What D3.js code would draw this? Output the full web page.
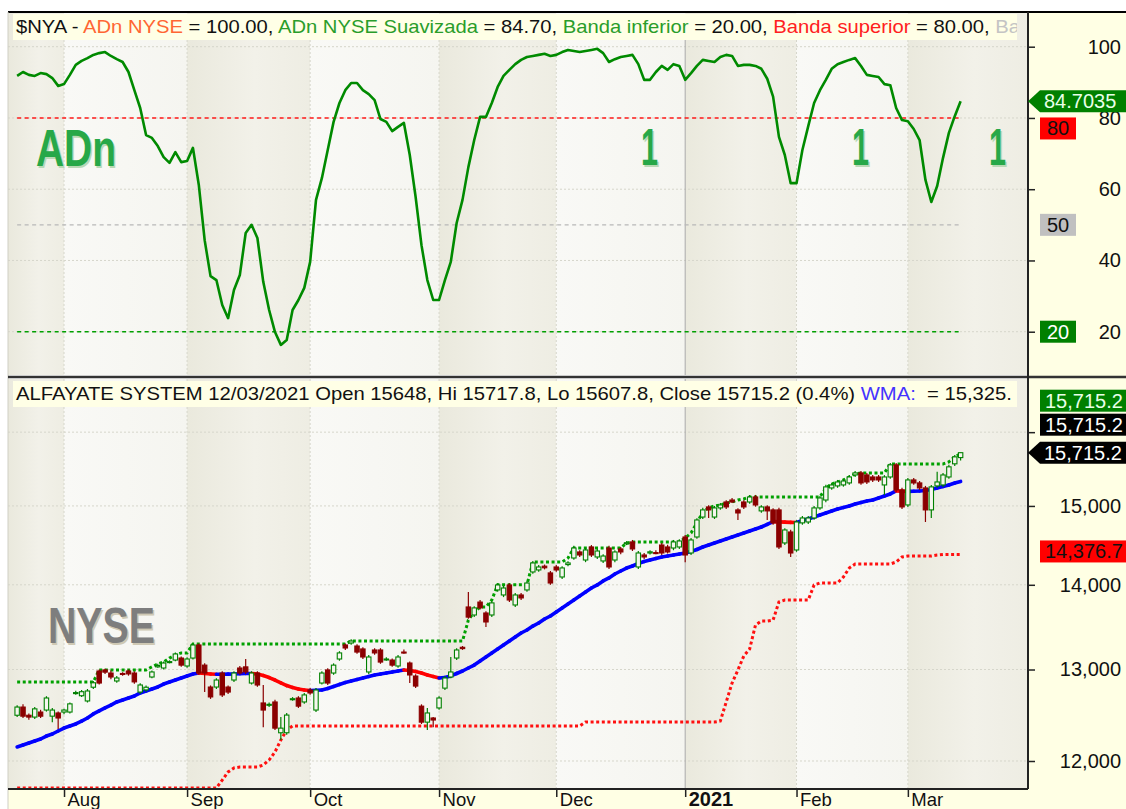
<!DOCTYPE html>
<html>
<head>
<meta charset="utf-8">
<script src="https://cdn.jsdelivr.net/npm/d3@7"></script>
<style>
  body { margin: 0; background: #fff; }
  text { font-family: "Liberation Sans", Arial, sans-serif; }
</style>
</head>
<body>
<script>
// trading days 22 Jul 2020 .. 12 Mar 2021 (index 0..161)
var monthIdx = [8, 29, 50, 72, 92, 114, 133, 152];
var monthLabels = ["Aug", "Sep", "Oct", "Nov", "Dec", "2021", "Feb", "Mar"];

var adnTicks = [20, 40, 60, 80, 100];
var priceTicks = [12000, 13000, 14000, 15000, 16000];
var bandLevels = [80, 50, 20];

var opens = [
  12490,12580,12490,12470,12525,12547,12480,12515,12525,12525,
  12730,12705,12647,12800,12983,12995,12960,12870,12955,12983,
  12960,12746,12770,12915,13030,13017,13080,13108,13131,13040,
  13131,13282,13050,12802,12802,12960,12802,12881,13017,13030,
  12847,12960,12625,12600,12636,12300,12300,12662,12680,12636,
  12769,12547,12847,12995,12960,13120,13282,13305,13270,13236,
  12972,13224,13224,13115,13108,13040,13200,13074,12926,12590,
  12415,12460,12570,12790,12915,13131,13255,13731,13635,13790,
  13659,13635,13937,13876,13998,13755,13876,13937,14158,14183,
  14230,14146,14220,14096,14250,14332,14408,14307,14471,14345,
  14295,14458,14307,14446,14510,14535,14220,14370,14395,14400,
  14496,14471,14458,14471,14598,14395,14598,14855,14987,14855,
  14974,15052,15078,14948,15052,15052,15118,14935,14987,14948,
  14948,14522,14662,14433,14779,14791,14843,14974,15078,15238,
  15265,15278,15305,15412,15440,15412,15385,15385,15278,15385,
  15549,15212,15013,15345,15305,15238,14948,15265,15278,15385,
  15563,15648];
var highs = [
  12600,12610,12510,12580,12550,12700,12570,12530,12560,12630,
  12760,12770,12780,12870,13000,13010,12990,12925,12970,13000,
  12980,12845,12820,12990,13065,13090,13105,13195,13150,13140,
  13300,13300,13070,12820,12900,12980,12820,12980,13040,13120,
  12980,12980,12825,12630,12660,12470,12515,12690,12700,12735,
  12790,12790,12980,13015,13070,13210,13300,13350,13290,13255,
  13165,13245,13245,13140,13125,13165,13230,13090,12945,12610,
  12570,12470,12700,12925,13143,13245,13270,13912,13740,13815,
  13680,13800,14020,13985,14020,13900,13900,14045,14295,14245,
  14250,14170,14245,14230,14290,14485,14430,14458,14495,14445,
  14380,14485,14430,14470,14545,14560,14420,14395,14430,14430,
  14520,14500,14560,14570,14625,14585,14840,14975,15010,15000,
  15040,15075,15105,14970,15075,15145,15145,15010,15010,14970,
  14975,14710,14690,14815,14870,14870,15000,15130,15280,15305,
  15345,15355,15410,15465,15465,15440,15412,15412,15410,15575,
  15575,15240,15370,15370,15331,15265,15278,15455,15440,15549,
  15685,15717.8];
var lows = [
  12470,12460,12440,12450,12460,12530,12415,12340,12500,12510,
  12715,12690,12630,12780,12830,12950,12890,12850,12930,12930,
  12840,12725,12750,12900,13020,13000,13070,13095,13030,13020,
  13115,12940,12746,12670,12780,12690,12725,12860,12940,12950,
  12830,12805,12360,12580,12330,12222,12280,12650,12570,12615,
  12715,12525,12830,12825,12940,13100,13225,13285,13180,13120,
  12950,13170,13065,13100,13030,13020,13180,12847,12790,12395,
  12330,12360,12550,12770,12900,13110,13225,13590,13610,13700,
  13492,13610,13915,13850,13790,13730,13815,13915,14135,14160,
  14190,14000,14160,14070,14230,14310,14345,14280,14345,14320,
  14270,14195,14280,14380,14495,14420,14195,14320,14375,14380,
  14370,14390,14430,14445,14280,14370,14575,14830,14843,14830,
  14950,14960,15040,14817,14960,15030,14990,14910,14817,14755,
  14445,14495,14345,14410,14755,14765,14820,14950,15050,15215,
  15240,15255,15280,15385,15280,15290,15318,15318,15145,15360,
  15185,14960,14987,15280,15212,14791,14843,15240,15252,15360,
  15535,15607.8];
var closes = [
  12580,12480,12470,12560,12480,12680,12547,12460,12547,12615,
  12740,12750,12758,12850,12847,12970,12915,12904,12945,12950,
  12860,12825,12800,12972,13045,13074,13090,13178,13050,13120,
  13282,12960,12960,12692,12881,12714,12746,12960,12960,12972,
  12960,12825,12547,12610,12350,12350,12492,12672,12590,12714,
  12736,12769,12960,12847,13050,13190,13247,13328,13200,13143,
  13143,13190,13085,13120,13050,13143,13190,12938,12813,12415,
  12515,12438,12680,12904,12972,13224,13240,13610,13720,13720,
  13552,13780,13998,13961,13815,13876,13840,14022,14270,14220,
  14210,14022,14183,14208,14270,14458,14370,14433,14370,14420,
  14357,14220,14408,14408,14525,14446,14395,14345,14410,14390,
  14395,14408,14535,14547,14370,14560,14817,14948,14948,14974,
  15013,14987,15052,14908,14987,15118,15013,14987,14935,14779,
  14471,14688,14395,14791,14843,14843,14974,15105,15252,15278,
  15318,15331,15385,15440,15305,15318,15345,15345,15385,15549,
  15212,14987,15345,15305,15238,14948,15252,15318,15412,15522,
  15658,15715.2];

var wma = [
  12148,12169,12190,12212,12233,12265,12287,12319,12351,12373,
  12395,12427,12460,12504,12537,12570,12602,12636,12658,12680,
  12702,12736,12758,12780,12803,12836,12859,12881,12904,12927,
  12949,12960,12955,12949,12946,12947,12948,12949,12952,12954,
  12955,12949,12932,12909,12881,12848,12819,12797,12780,12769,
  12764,12766,12769,12786,12808,12831,12853,12870,12887,12904,
  12921,12938,12949,12960,12972,12983,12995,12989,12978,12960,
  12938,12921,12904,12909,12927,12955,12983,13017,13051,13097,
  13143,13189,13235,13282,13328,13375,13422,13457,13504,13540,
  13587,13623,13671,13719,13767,13815,13864,13912,13961,13998,
  14047,14084,14133,14170,14207,14232,14263,14288,14307,14326,
  14345,14357,14370,14382,14395,14414,14439,14471,14496,14522,
  14547,14572,14598,14624,14649,14675,14700,14726,14760,14795,
  14792,14789,14786,14784,14810,14830,14856,14882,14908,14934,
  14960,14980,15000,15026,15045,15065,15078,15105,15131,15158,
  15198,15194,15192,15194,15198,15205,15217,15237,15258,15278,
  15304,15325];

// green dotted resistance
var upperLine = [
  12859,12859,12859,12859,12859,12859,12859,12859,12859,12859,
  12859,12859,12859,12859,12995,12995,12995,12995,12995,12995,
  12995,12995,12995,13030,13063,13085,13131,13166,13190,13190,
  13293,13293,13293,13293,13293,13293,13293,13293,13293,13293,
  13293,13293,13293,13293,13293,13293,13293,13293,13293,13293,
  13293,13293,13293,13293,13293,13293,13293,13328,13328,13328,
  13328,13328,13328,13328,13328,13328,13328,13328,13328,13328,
  13328,13328,13328,13328,13328,13328,13328,13575,13671,13731,
  13731,13815,14000,14000,14000,14000,14000,14000,14282,14282,
  14282,14282,14282,14282,14332,14458,14458,14458,14458,14458,
  14458,14458,14458,14458,14522,14535,14535,14535,14535,14535,
  14535,14535,14535,14535,14585,14649,14779,14921,14974,15000,
  15013,15039,15052,15078,15092,15118,15118,15118,15118,15118,
  15118,15118,15118,15118,15118,15118,15118,15118,15238,15291,
  15318,15345,15385,15426,15440,15440,15440,15440,15440,15562,
  15562,15562,15562,15562,15562,15562,15562,15562,15562,15590,
  15658,15700];

// red dotted trailing stop
var lowerLine = [
  11720,11720,11720,11720,11720,11720,11720,11720,11720,11720,
  11720,11720,11720,11720,11720,11720,11720,11720,11720,11720,
  11720,11720,11720,11720,11720,11720,11720,11720,11720,11720,
  11720,11720,11720,11720,11720,11802,11886,11927,11937,11937,
  11937,11937,11958,12010,12095,12222,12329,12373,12373,12373,
  12373,12373,12373,12373,12373,12373,12373,12373,12373,12373,
  12373,12373,12373,12373,12373,12373,12373,12373,12373,12373,
  12373,12373,12373,12373,12373,12373,12373,12373,12373,12373,
  12373,12373,12373,12373,12373,12373,12373,12373,12373,12373,
  12373,12373,12373,12373,12373,12373,12373,12416,12416,12416,
  12416,12416,12416,12416,12416,12416,12416,12416,12416,12416,
  12416,12416,12416,12416,12416,12416,12416,12416,12416,12416,
  12427,12636,12847,12995,13155,13236,13516,13563,13563,13575,
  13791,13815,13815,13815,13815,13815,13998,14023,14023,14023,
  14023,14096,14207,14257,14257,14257,14257,14257,14257,14257,
  14282,14345,14357,14357,14357,14357,14357,14370,14376,14376.7,
  14376.7,14376.7];

var adn = [
  91.8,92.9,92.1,91.8,92.6,92.3,91.2,89.0,89.5,92.1,
  94.9,96.0,96.8,97.7,98.2,98.5,97.4,96.5,95.7,92.9,
  87.8,82.8,75.2,74.4,72.1,69.0,67.4,70.4,67.6,67.9,
  71.6,61.2,45.7,35.6,34.5,27.5,23.8,31.7,35.9,47.7,
  50.0,46.3,34.0,26.1,19.9,16.3,17.7,26.1,28.9,32.3,
  39.6,57.0,63.1,71.0,78.9,84.2,87.8,89.8,89.8,87.8,
  86.7,85.0,79.7,78.9,76.3,77.5,78.6,69.6,57.8,44.3,
  34.5,28.9,28.9,34.5,39.6,50.5,57.0,66.2,73.8,80.3,
  80.3,84.2,88.7,91.8,93.5,95.1,96.3,97.1,97.4,97.7,
  98.0,97.4,97.7,98.5,99.1,98.8,98.5,98.8,99.1,99.4,
  98.2,95.7,96.5,97.1,97.4,97.7,95.1,90.7,90.7,92.9,
  94.6,93.5,95.1,94.6,90.7,92.6,94.6,96.3,96.0,95.7,
  97.1,97.7,97.4,94.6,94.9,94.9,94.6,93.8,91.0,86.0,
  74.7,69.6,61.7,61.7,71.0,77.7,84.2,87.8,90.7,93.8,
  95.1,95.7,96.3,96.8,94.6,92.1,91.8,91.5,89.5,89.2,
  82.8,79.4,79.1,76.9,73.8,62.6,56.4,60.9,68.8,75.8,
  80.5,84.7035];

var w = 1126, h = 809;
var left = 8, right = 1028;
var panels = [{y0: 13, y1: 375}, {y0: 379, y1: 789}];

var svg = d3.select("body").append("svg")
    .attr("width", w)
    .attr("height", h);
var defs = svg.append("defs");

function grad(id, stops) {
    var g = defs.append("linearGradient").attr("id", id)
        .attr("x1", 0).attr("x2", 1).attr("y1", 0).attr("y2", 0);
    stops.forEach(function(s) { g.append("stop").attr("offset", s[0]).attr("stop-color", s[1]); });
}
grad("bandDark", [[0, "#eae9dd"], [0.55, "#f2f1e9"], [1, "#eeede3"]]);
grad("bandLight", [[0, "#f9f9f6"], [1, "#f5f5f0"]]);

panels.forEach(function(p, k) {
    defs.append("clipPath").attr("id", "clip" + k).append("rect")
        .attr("x", left).attr("y", p.y0)
        .attr("width", right - left).attr("height", p.y1 - p.y0);
});
defs.append("clipPath").attr("id", "clipHead").append("rect")
    .attr("x", 13).attr("y", 0).attr("width", 1004).attr("height", h);

// --- scales ---
var x = d3.scaleLinear().domain([-1.56, 172.5]).range([left, right]);
var yTop = d3.scaleLinear().domain([7.85, 109.46]).range([panels[0].y1, panels[0].y0]);
var yBot = d3.scaleLog().domain([11709.6, 16761.8]).range([panels[1].y1, panels[1].y0]);
var idx = d3.range(closes.length);

// --- month bands + grid ---
var edges = [x.domain()[0]].concat(monthIdx, [x.domain()[1]]);
panels.forEach(function(p, k) {
    svg.append("g").selectAll("rect")
        .data(d3.range(edges.length - 1))
        .enter().append("rect")
        .attr("x", function(j) { return x(edges[j]); })
        .attr("width", function(j) { return x(edges[j + 1]) - x(edges[j]); })
        .attr("y", p.y0)
        .attr("height", p.y1 - p.y0)
        .attr("fill", function(j) { return j % 2 == 0 ? "url(#bandDark)" : "url(#bandLight)"; });

    var yS = k == 0 ? yTop : yBot;
    svg.append("g").selectAll("line")
        .data(k == 0 ? adnTicks : priceTicks)
        .enter().append("line")
        .attr("x1", left).attr("x2", right)
        .attr("y1", function(d) { return yS(d); })
        .attr("y2", function(d) { return yS(d); })
        .attr("stroke", "#d6d6cb")
        .attr("stroke-dasharray", "2,2");

    svg.append("g").selectAll("line")
        .data(monthIdx)
        .enter().append("line")
        .attr("x1", function(d) { return x(d); })
        .attr("x2", function(d) { return x(d); })
        .attr("y1", k == 0 ? 40 : p.y0).attr("y2", p.y1)
        .attr("stroke", function(d, i) { return monthLabels[i] == "2021" ? "#a9a9a9" : "#d6d6cb"; })
        .attr("stroke-dasharray", function(d, i) { return monthLabels[i] == "2021" ? null : "2,2"; });
});

// --- top panel: ADn ---
var gTop = svg.append("g").attr("clip-path", "url(#clip0)");
var levelColors = ["#ff1a1a", "#b8b8b8", "#00a000"];
gTop.selectAll(".level")
    .data(bandLevels)
    .enter().append("line")
    .attr("x1", x(0)).attr("x2", x(adn.length - 1))
    .attr("y1", function(d) { return yTop(d); })
    .attr("y2", function(d) { return yTop(d); })
    .attr("stroke", function(d, i) { return levelColors[i]; })
    .attr("stroke-width", 1.4)
    .attr("stroke-dasharray", "4,3.5");

// watermarks
function mark(g, t, xx, yy, size, len, fill, shade) {
    g.append("text").attr("x", xx + 1.5).attr("y", yy + 1.5).text(t)
        .attr("font-size", size).attr("font-weight", "bold")
        .attr("textLength", len).attr("lengthAdjust", "spacingAndGlyphs")
        .attr("fill", shade);
    g.append("text").attr("x", xx).attr("y", yy).text(t)
        .attr("font-size", size).attr("font-weight", "bold")
        .attr("textLength", len).attr("lengthAdjust", "spacingAndGlyphs")
        .attr("fill", fill);
}
mark(gTop, "ADn", 36, 166, 52, 80, "#27a848", "#b9d8b4");
[641, 852, 989].forEach(function(xx) { mark(gTop, "1", xx, 165, 52, 17, "#27a848", "#b9d8b4"); });

gTop.append("path")
    .datum(adn)
    .attr("d", d3.line().x(function(d, i) { return x(i); }).y(function(d) { return yTop(d); }))
    .attr("fill", "none")
    .attr("stroke", "#008a00")
    .attr("stroke-width", 2.6)
    .attr("stroke-linejoin", "round");

// --- bottom panel: price ---
var gBot = svg.append("g").attr("clip-path", "url(#clip1)");
mark(gBot, "NYSE", 48, 643, 50, 107, "#7e7e7e", "#cfc9b4");

var dotted = d3.line().x(function(d, i) { return x(i); }).y(function(d) { return yBot(d); });
gBot.append("path").datum(upperLine).attr("d", dotted)
    .attr("fill", "none").attr("stroke", "#00a000")
    .attr("stroke-width", 3).attr("stroke-dasharray", "3,2.6");
gBot.append("path").datum(lowerLine).attr("d", dotted)
    .attr("fill", "none").attr("stroke", "#ff1010")
    .attr("stroke-width", 3).attr("stroke-dasharray", "3,2.6");

// WMA, blue when rising, red when falling
gBot.selectAll(".wma")
    .data(idx.slice(1))
    .enter().append("line")
    .attr("x1", function(i) { return x(i - 1); })
    .attr("x2", function(i) { return x(i); })
    .attr("y1", function(i) { return yBot(wma[i - 1]); })
    .attr("y2", function(i) { return yBot(wma[i]); })
    .attr("stroke", function(i) { return wma[i] >= wma[i - 1] ? "#0000ff" : "#ff0000"; })
    .attr("stroke-width", 3.6)
    .attr("stroke-linecap", "round");

// candles
function up(i) { return closes[i] >= opens[i]; }
gBot.selectAll(".wick")
    .data(idx)
    .enter().append("line")
    .attr("x1", function(i) { return x(i); })
    .attr("x2", function(i) { return x(i); })
    .attr("y1", function(i) { return yBot(highs[i]); })
    .attr("y2", function(i) { return yBot(lows[i]); })
    .attr("stroke", function(i) { return up(i) ? "#008000" : "#8b0000"; })
    .attr("stroke-width", 1.2);
gBot.selectAll(".body")
    .data(idx)
    .enter().append("rect")
    .attr("x", function(i) { return x(i) - 2.2; })
    .attr("width", 4.4)
    .attr("y", function(i) { return yBot(Math.max(opens[i], closes[i])); })
    .attr("height", function(i) {
        return Math.max(1, yBot(Math.min(opens[i], closes[i])) - yBot(Math.max(opens[i], closes[i])));
    })
    .attr("fill", function(i) { return up(i) ? "#f6f6ef" : "#8b0000"; })
    .attr("stroke", function(i) { return up(i) ? "#008000" : "#8b0000"; })
    .attr("stroke-width", 1.1);

// --- frame, axes backgrounds ---
svg.append("rect").attr("x", right).attr("y", 12).attr("width", w - right).attr("height", 777).attr("fill", "#ffffe4");
svg.append("rect").attr("x", left).attr("y", 789).attr("width", w - left).attr("height", 20).attr("fill", "#ffffe4");
svg.append("line").attr("x1", left).attr("x2", w).attr("y1", 12).attr("y2", 12).attr("stroke", "#000").attr("stroke-width", 2);
svg.append("line").attr("x1", left).attr("x2", left).attr("y1", 12).attr("y2", 809).attr("stroke", "#cfcfc4");
svg.append("line").attr("x1", left).attr("x2", w).attr("y1", 377).attr("y2", 377).attr("stroke", "#333").attr("stroke-width", 2.5);
svg.append("line").attr("x1", right).attr("x2", right).attr("y1", 12).attr("y2", 789).attr("stroke", "#222").attr("stroke-width", 2);
svg.append("line").attr("x1", left).attr("x2", right).attr("y1", 789).attr("y2", 789).attr("stroke", "#222").attr("stroke-width", 2);

// headers
function header(y, parts, len) {
    svg.append("rect").attr("x", 13).attr("y", y).attr("width", 1004).attr("height", 26).attr("fill", "#ffffe6");
    var t = svg.append("g").attr("clip-path", "url(#clipHead)")
        .append("text").attr("x", 16).attr("y", y + 19)
        .attr("font-size", 18.5).style("white-space", "pre")
        .attr("textLength", len).attr("lengthAdjust", "spacingAndGlyphs");
    parts.forEach(function(p) { t.append("tspan").attr("fill", p[1]).text(p[0]); });
}
header(14, [["$NYA - ", "#111"], ["ADn NYSE", "#ff6633"], [" = 100.00, ", "#111"],
    ["ADn NYSE Suavizada", "#2a9d2a"], [" = 84.70, ", "#111"],
    ["Banda inferior", "#2a9d2a"], [" = 20.00, ", "#111"],
    ["Banda superior", "#ff2020"], [" = 80.00, ", "#111"], ["Ba", "#c4c4c4"]], 1004);
header(381, [["ALFAYATE SYSTEM 12/03/2021 Open 15648, Hi 15717.8, Lo 15607.8, Close 15715.2 (0.4%) ", "#111"],
    ["WMA:", "#4433ff"], ["  = 15,325.", "#111"]], 996);

// --- axes ---
function styleY(g) {
    g.select(".domain").remove();
    g.attr("font-family", null).attr("font-size", 20).attr("color", "#222");
    g.selectAll(".tick line").attr("stroke-width", 1.5);
    g.selectAll("text").attr("x", 93).attr("text-anchor", "end").attr("fill", "#111");
}
var fmtPrice = d3.format(",");
svg.append("g").attr("transform", "translate(" + right + ",0)")
    .call(d3.axisRight(yTop).tickValues(adnTicks).tickSize(7))
    .call(styleY);
svg.append("g").attr("transform", "translate(" + right + ",0)")
    .call(d3.axisRight(yBot).tickValues(priceTicks).tickSize(7)
        .tickFormat(function(d) { return d < 16000 ? fmtPrice(d) : ""; }))
    .call(styleY);

svg.append("g").attr("transform", "translate(0,789)")
    .call(d3.axisBottom(x).tickValues(monthIdx).tickSize(8)
        .tickFormat(function(d, i) { return monthLabels[i]; }))
    .call(function(g) {
        g.select(".domain").remove();
        g.attr("font-family", null).attr("font-size", 18.5).attr("color", "#222");
        g.selectAll(".tick line").attr("stroke-width", 1.5);
        g.selectAll("text").attr("text-anchor", "start").attr("x", 3).attr("y", 17).attr("dy", null)
            .attr("fill", "#111")
            .attr("font-weight", function(d, i) { return monthLabels[i] == "2021" ? "bold" : null; })
            .attr("font-size", function(d, i) { return monthLabels[i] == "2021" ? 20 : null; });
    });

// --- value boxes on the right axis ---
function box(yc, label, bg, fg, bx, arrow, centered) {
    var g = svg.append("g");
    var bw = centered ? 36 : w - bx;
    if (arrow) {
        g.append("path")
            .attr("d", "M" + right + "," + yc + "L" + (right + 12) + "," + (yc - 11) + "H" + w + "V" + (yc + 11) + "H" + (right + 12) + "Z")
            .attr("fill", bg);
    } else {
        g.append("rect").attr("x", bx).attr("y", yc - 11).attr("width", bw).attr("height", 22).attr("fill", bg);
    }
    g.append("text")
        .attr("x", centered ? bx + bw / 2 : (arrow ? right + 16 : bx + 5))
        .attr("y", yc + 7)
        .attr("text-anchor", centered ? "middle" : "start")
        .attr("font-size", 20)
        .attr("fill", fg)
        .text(label);
}
var lastAdn = adn[adn.length - 1];
var lastClose = closes[closes.length - 1];
var lastStop = lowerLine[lowerLine.length - 1];
box(yTop(lastAdn), d3.format(".4f")(lastAdn), "#008000", "#e8ffe8", right, true, false);
box(yTop(bandLevels[0]) + 10.5, String(bandLevels[0]), "#ff0000", "#111", 1040, false, true);
box(yTop(bandLevels[1]), String(bandLevels[1]), "#c0c0c0", "#111", 1040, false, true);
box(yTop(bandLevels[2]), String(bandLevels[2]), "#008000", "#fff", 1040, false, true);
box(yBot(lastClose) - 52, d3.format(",.1f")(lastClose), "#008000", "#e8ffe8", 1040, false, false);
box(yBot(lastClose) - 28, d3.format(",.1f")(lastClose), "#000", "#fff", 1040, false, false);
box(yBot(lastClose), d3.format(",.1f")(lastClose), "#000", "#fff", right, true, false);
box(yBot(lastStop) - 3, d3.format(",.1f")(lastStop), "#ff0000", "#111", 1040, false, false);
</script>
</body>
</html>
